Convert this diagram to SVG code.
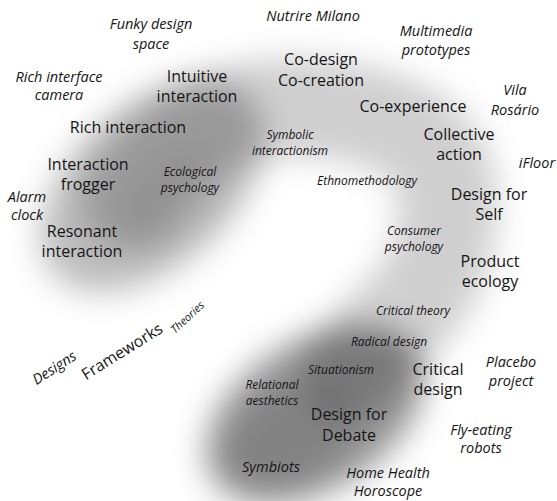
<svg xmlns="http://www.w3.org/2000/svg" width="557" height="501" viewBox="0 0 557 501">
<defs>
<filter id="blur" x="-30%" y="-30%" width="160%" height="160%">
<feGaussianBlur stdDeviation="16"/>
</filter>
<style>
text{font-family:"Open Sans","Noto Sans","Liberation Sans",sans-serif;fill:#151515;text-anchor:middle}
.d{font-style:italic;font-size:14.5px}
.f{font-size:16px}
.t{font-style:italic;font-size:12px}
.tr{font-style:italic;font-size:11px}
</style>
</defs>
<rect width="557" height="501" fill="#fff"/>
<g id="shade" filter="url(#blur)">
<ellipse cx="152" cy="186" rx="132" ry="80" transform="rotate(-42 152 186)" fill="#000" fill-opacity="0.26"/>
<ellipse cx="175" cy="200" rx="60" ry="40" transform="rotate(-42 175 200)" fill="#000" fill-opacity="0.06"/>
<path d="M130 200 C180 110 280 95 360 115 S455 170 445 235 S400 310 350 370" fill="none" stroke="#000" stroke-opacity="0.19" stroke-width="98" stroke-linecap="round"/>
<ellipse cx="315" cy="415" rx="120" ry="74" transform="rotate(-32 315 415)" fill="#000" fill-opacity="0.42"/>
<ellipse cx="290" cy="435" rx="70" ry="45" transform="rotate(-30 290 435)" fill="#000" fill-opacity="0.12"/>
</g>
<g id="legend">
<text class="d" transform="translate(57 372) rotate(-33)">Designs</text>
<text class="f" transform="translate(125 356) rotate(-32)">Frameworks</text>
<text class="tr" transform="translate(190 320) rotate(-43)">Theories</text>
</g>
<g id="designs">
<g id="funky"><text class="d" x="151" y="29">Funky design<tspan x="151" dy="20">space</tspan></text></g>
<g id="richcamera"><text class="d" x="59" y="82">Rich interface<tspan x="59" dy="18">camera</tspan></text></g>
<g id="nutrire"><text class="d" x="313" y="21">Nutrire Milano</text></g>
<g id="multimedia"><text class="d" x="436" y="36">Multimedia<tspan x="436" dy="19">prototypes</tspan></text></g>
<g id="vila"><text class="d" x="515" y="95">Vila<tspan x="515" dy="20">Rosário</tspan></text></g>
<g id="ifloor"><text class="d" x="537" y="168">iFloor</text></g>
<g id="alarm"><text class="d" x="27" y="202">Alarm<tspan x="27" dy="18">clock</tspan></text></g>
<g id="placebo"><text class="d" x="511" y="367">Placebo<tspan x="511" dy="19">project</tspan></text></g>
<g id="fly"><text class="d" x="481" y="435">Fly-eating<tspan x="481" dy="18">robots</tspan></text></g>
<g id="symbiots"><text class="d" x="271" y="472">Symbiots</text></g>
<g id="homehealth"><text class="d" x="388" y="478">Home Health<tspan x="388" dy="18">Horoscope</tspan></text></g>
</g>
<g id="frameworks">
<g id="intuitive"><text class="f" x="197" y="82">Intuitive<tspan x="197" dy="20">interaction</tspan></text></g>
<g id="codesign"><text class="f" x="321" y="65">Co-design<tspan x="321" dy="21">Co-creation</tspan></text></g>
<g id="coexperience"><text class="f" x="413" y="112">Co-experience</text></g>
<g id="richinteraction"><text class="f" x="128" y="133">Rich interaction</text></g>
<g id="collective"><text class="f" x="459" y="140">Collective<tspan x="459" dy="20">action</tspan></text></g>
<g id="frogger"><text class="f" x="88" y="170">Interaction<tspan x="88" dy="20">frogger</tspan></text></g>
<g id="designself"><text class="f" x="489" y="200">Design for<tspan x="489" dy="20">Self</tspan></text></g>
<g id="resonant"><text class="f" x="82" y="237">Resonant<tspan x="82" dy="20">interaction</tspan></text></g>
<g id="product"><text class="f" x="490" y="267">Product<tspan x="490" dy="20">ecology</tspan></text></g>
<g id="criticaldesign"><text class="f" x="438" y="375">Critical<tspan x="438" dy="20">design</tspan></text></g>
<g id="debate"><text class="f" x="349" y="420">Design for<tspan x="349" dy="21">Debate</tspan></text></g>
</g>
<g id="theories">
<g id="symbolic"><text class="t" x="290" y="139">Symbolic<tspan x="290" dy="16">interactionism</tspan></text></g>
<g id="ecological"><text class="t" x="190" y="176">Ecological<tspan x="190" dy="16">psychology</tspan></text></g>
<g id="ethno"><text class="t" x="367" y="185">Ethnomethodology</text></g>
<g id="consumer"><text class="t" x="414" y="235">Consumer<tspan x="414" dy="16">psychology</tspan></text></g>
<g id="criticaltheory"><text class="t" x="413" y="315">Critical theory</text></g>
<g id="radical"><text class="t" x="389" y="346">Radical design</text></g>
<g id="situationism"><text class="t" x="341" y="374">Situationism</text></g>
<g id="relational"><text class="t" x="272" y="389">Relational<tspan x="272" dy="16">aesthetics</tspan></text></g>
</g>
</svg>
